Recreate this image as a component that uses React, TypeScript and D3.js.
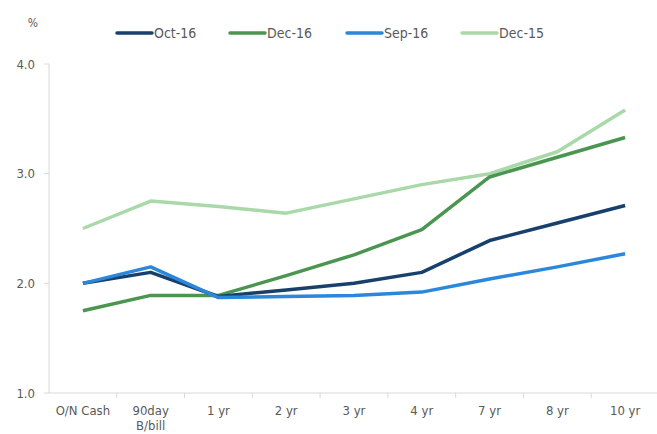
import React, { useEffect, useRef } from "react";
import * as d3 from "d3";

const categories = ["O/N Cash", "90day|B/bill", "1 yr", "2 yr", "3 yr", "4 yr", "7 yr", "8 yr", "10 yr"];
const yTicks = [1.0, 2.0, 3.0, 4.0];

const oct16 = [2.0, 2.1, 1.88, 1.94, 2.0, 2.1, 2.39, 2.55, 2.71];
const dec16 = [1.75, 1.89, 1.89, 2.07, 2.26, 2.49, 2.97, 3.15, 3.33];
const sep16 = [2.0, 2.15, 1.87, 1.88, 1.89, 1.92, 2.04, 2.15, 2.27];
const dec15 = [2.5, 2.75, 2.7, 2.64, 2.77, 2.9, 3.0, 3.2, 3.58];

const seriesNames = ["Oct-16", "Dec-16", "Sep-16", "Dec-15"];
const seriesColors = ["#17406d", "#4a9650", "#2b87dc", "#a9d8a9"];

const FONT = "'DejaVu Sans Condensed', 'Liberation Sans Narrow', 'Open Sans', sans-serif";

export default function App() {
    const ref = useRef<SVGSVGElement>(null);

    useEffect(() => {
        const width = 657;
        const height = 434;
        const margin = { top: 64, right: -2, bottom: 41, left: 49 };

        const svg = d3.select(ref.current);
        svg.selectAll("*").remove();

        const x = d3.scaleBand().domain(categories).range([margin.left, width - margin.right]);
        const y = d3.scaleLinear().domain([1, 4]).range([height - margin.bottom, margin.top]);

        // axes
        const gy = svg.append("g");
        gy.append("line")
            .attr("x1", margin.left).attr("x2", margin.left)
            .attr("y1", y(4)).attr("y2", y(1))
            .attr("stroke", "#d9d9d9");
        yTicks.forEach(t => {
            gy.append("line")
                .attr("x1", margin.left - 5).attr("x2", margin.left)
                .attr("y1", y(t)).attr("y2", y(t))
                .attr("stroke", "#d9d9d9");
            gy.append("text")
                .attr("x", margin.left - 14).attr("y", y(t))
                .attr("dy", "0.35em")
                .attr("text-anchor", "end")
                .attr("font-size", 13)
                .attr("fill", "#595959")
                .attr("font-family", FONT)
                .text(t.toFixed(1));
        });

        const gx = svg.append("g");
        gx.append("line")
            .attr("x1", margin.left).attr("x2", width)
            .attr("y1", y(1)).attr("y2", y(1))
            .attr("stroke", "#d9d9d9");
        categories.forEach((c, i) => {
            const bx = (x(c) as number) + x.bandwidth();
            if (i < categories.length - 1) {
                gx.append("line")
                    .attr("x1", bx).attr("x2", bx)
                    .attr("y1", y(1)).attr("y2", y(1) + 5)
                    .attr("stroke", "#d9d9d9");
            }
            const lines = c.split("|");
            lines.forEach((ln, j) => {
                gx.append("text")
                    .attr("x", (x(c) as number) + x.bandwidth() / 2)
                    .attr("y", y(1) + 22 + j * 15)
                    .attr("text-anchor", "middle")
                    .attr("font-size", 13)
                    .attr("fill", "#595959")
                    .attr("font-family", FONT)
                    .text(ln);
            });
        });

        // "%" label
        svg.append("text")
            .attr("x", 33).attr("y", 27)
            .attr("text-anchor", "middle")
            .attr("font-size", 12)
            .attr("fill", "#595959")
            .attr("font-family", FONT)
            .text("%");

        // lines
        const all = [oct16, dec16, sep16, dec15];
        const line = d3.line<number>()
            .x((_, i) => (x(categories[i]) as number) + x.bandwidth() / 2)
            .y(d => y(d));
        [3, 1, 0, 2].forEach(k => {
            svg.append("path")
                .datum(all[k])
                .attr("fill", "none")
                .attr("stroke", seriesColors[k])
                .attr("stroke-width", 3.5)
                .attr("stroke-linejoin", "round")
                .attr("d", line);
        });

        // legend
        const legendX = [117, 230, 347, 462];
        seriesNames.forEach((n, i) => {
            const g = svg.append("g").attr("transform", `translate(${legendX[i]},33)`);
            g.append("line")
                .attr("x1", 0).attr("x2", 35)
                .attr("stroke", seriesColors[i])
                .attr("stroke-width", 3.5)
                .attr("stroke-linecap", "round");
            g.append("text")
                .attr("x", 37).attr("dy", "0.35em")
                .attr("font-size", 14)
                .attr("fill", "#595959")
                .attr("font-family", FONT)
                .text(n);
        });
    }, []);

    return (
        <svg
            ref={ref}
            width={657}
            height={434}
            style={{ position: "absolute", left: 0, top: 0, background: "#fff" }}
        />
    );
}
